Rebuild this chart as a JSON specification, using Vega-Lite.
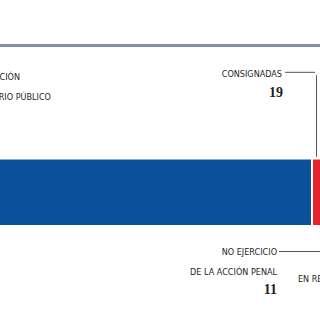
{
  "$schema": "https://vega.github.io/schema/vega-lite/v6.json",
  "width": 320,
  "height": 320,
  "autosize": {"type": "none"},
  "padding": 0,
  "background": "white",
  "config": {"view": {"stroke": null}, "text": {"font": "DejaVu Sans Condensed", "fontSize": 9, "color": "#1e1e1e"}},
  "layer": [
    {
      "data": {"values": [
        {"categoria": "En integración", "casos": 950, "orden": 1},
        {"categoria": "Consignadas", "casos": 19, "orden": 2},
        {"categoria": "No ejercicio de la acción penal", "casos": 11, "orden": 3},
        {"categoria": "En reserva", "casos": 20, "orden": 4}
      ]},
      "transform": [{"stack": "casos", "groupby": [], "sort": [{"field": "orden"}], "as": ["inicio", "fin"]}],
      "mark": {"type": "bar", "clip": true, "stroke": "white", "strokeWidth": 2},
      "encoding": {
        "x": {"field": "inicio", "type": "quantitative", "scale": {"domain": [638, 958], "nice": false, "zero": false}, "axis": null},
        "x2": {"field": "fin"},
        "y": {"datum": 4.95, "type": "quantitative", "scale": {"domain": [0, 10], "reverse": true, "nice": false}, "axis": null},
        "y2": {"datum": 7.06},
        "color": {"field": "categoria", "type": "nominal", "scale": {"domain": ["En integración", "Consignadas", "No ejercicio de la acción penal", "En reserva"], "range": ["#0c4f9b", "#e4252b", "#9a9a9a", "#f0a030"]}, "legend": null}
      }
    },
    {
      "data": {"values": [{"linea": "superior"}]},
      "mark": {"type": "rule", "color": "#7f91a7", "strokeWidth": 3},
      "encoding": {"y": {"datum": 1.42, "type": "quantitative"}}
    },
    {
      "data": {"values": [
        {"texto": "AVERIGUACIÓN", "fila": "a"},
        {"texto": "DEL MINISTERIO PÚBLICO", "fila": "b"},
        {"texto": "CONSIGNADAS", "fila": "c"},
        {"texto": "NO EJERCICIO", "fila": "d"},
        {"texto": "DE LA ACCIÓN PENAL", "fila": "e"}
      ]},
      "layer": [
        {"transform": [{"filter": "datum.fila == 'a'"}], "mark": {"type": "text", "align": "right", "baseline": "alphabetic"},
         "encoding": {"text": {"field": "texto"}, "x": {"datum": 658, "type": "quantitative"}, "y": {"datum": 2.5, "type": "quantitative"}}},
        {"transform": [{"filter": "datum.fila == 'b'"}], "mark": {"type": "text", "align": "right", "baseline": "alphabetic"},
         "encoding": {"text": {"field": "texto"}, "x": {"datum": 689, "type": "quantitative"}, "y": {"datum": 3.13, "type": "quantitative"}}},
        {"transform": [{"filter": "datum.fila == 'c'"}], "mark": {"type": "text", "align": "right", "baseline": "alphabetic"},
         "encoding": {"text": {"field": "texto"}, "x": {"datum": 920, "type": "quantitative"}, "y": {"datum": 2.41, "type": "quantitative"}}},
        {"transform": [{"filter": "datum.fila == 'd'"}], "mark": {"type": "text", "align": "right", "baseline": "alphabetic"},
         "encoding": {"text": {"field": "texto"}, "x": {"datum": 915, "type": "quantitative"}, "y": {"datum": 7.97, "type": "quantitative"}}},
        {"transform": [{"filter": "datum.fila == 'e'"}], "mark": {"type": "text", "align": "right", "baseline": "alphabetic"},
         "encoding": {"text": {"field": "texto"}, "x": {"datum": 915, "type": "quantitative"}, "y": {"datum": 8.59, "type": "quantitative"}}}
      ]
    },
    {
      "data": {"values": [{"texto": "EN RESERVA"}]},
      "mark": {"type": "text", "align": "left", "baseline": "alphabetic"},
      "encoding": {"text": {"field": "texto"}, "x": {"datum": 936, "type": "quantitative"}, "y": {"datum": 8.81, "type": "quantitative"}}
    },
    {
      "data": {"values": [{"valor": 19}]},
      "mark": {"type": "text", "align": "right", "baseline": "alphabetic", "font": "Liberation Serif", "fontWeight": "bold", "fontSize": 14},
      "encoding": {"text": {"field": "valor"}, "x": {"datum": 921, "type": "quantitative"}, "y": {"datum": 3.03, "type": "quantitative"}}
    },
    {
      "data": {"values": [{"valor": 11}]},
      "mark": {"type": "text", "align": "right", "baseline": "alphabetic", "font": "Liberation Serif", "fontWeight": "bold", "fontSize": 14},
      "encoding": {"text": {"field": "valor"}, "x": {"datum": 915, "type": "quantitative"}, "y": {"datum": 9.19, "type": "quantitative"}}
    },
    {
      "data": {"values": [{"linea": "consignadas"}]},
      "layer": [
        {"mark": {"type": "rule", "color": "#555555", "strokeWidth": 1},
         "encoding": {"x": {"datum": 923, "type": "quantitative"}, "x2": {"datum": 953}, "y": {"datum": 2.26, "type": "quantitative"}}},
        {"mark": {"type": "rule", "color": "#555555", "strokeWidth": 1},
         "encoding": {"x": {"datum": 954.5, "type": "quantitative"}, "y": {"datum": 2.35, "type": "quantitative"}, "y2": {"datum": 4.9}}},
        {"mark": {"type": "rule", "color": "#555555", "strokeWidth": 1},
         "encoding": {"x": {"datum": 917, "type": "quantitative"}, "x2": {"datum": 962}, "y": {"datum": 7.86, "type": "quantitative"}}}
      ]
    }
  ]
}
